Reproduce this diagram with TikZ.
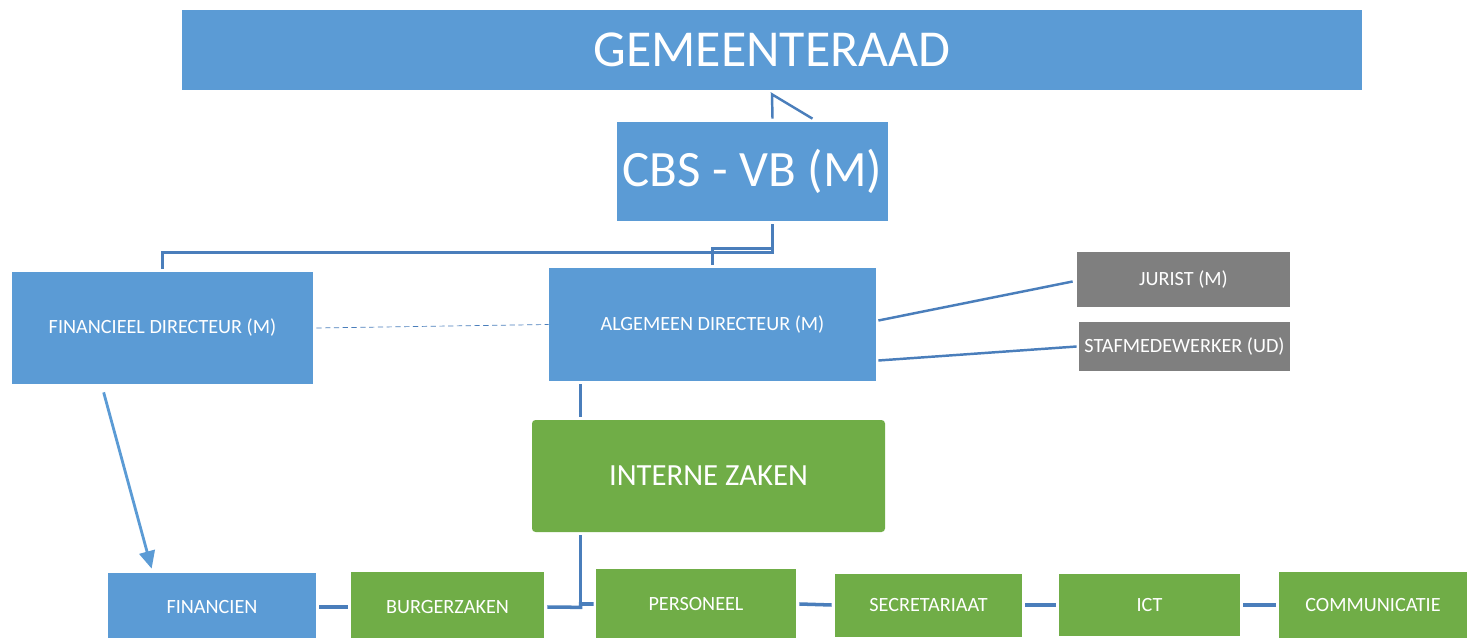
\documentclass[tikz,border=0pt]{standalone}
\usepackage{fontspec}
\setmainfont{Carlito}
\usetikzlibrary{arrows.meta,calc}
\definecolor{org_blue}{RGB}{91,155,213}
\definecolor{org_green}{RGB}{112,173,71}
\definecolor{org_grey}{RGB}{127,127,127}
\definecolor{org_line}{RGB}{74,126,187}

\begin{document}
\begin{tikzpicture}[x=0.02cm, y=-0.02cm,
  unit/.style={fill=#1, text=white, inner sep=0pt, font=\fontsize{11.5}{13}\selectfont},
  size/.style 2 args={minimum width=#1*0.02cm, minimum height=#2*0.02cm},
  link/.style={org_line, line width=1.4pt},
  bus/.style={org_line, line width=2pt}]
\useasboundingbox (0,0) rectangle (1467,638);
\clip (0,0) rectangle (1467,638);

\node[unit=org_blue, size={1180}{80}, font=\fontsize{29.5}{35}\selectfont] (raad) at (772,50) {GEMEENTERAAD};
\node[unit=org_blue, size={271}{99}, font=\fontsize{29}{35}\selectfont] (cbs) at (752.5,171.5) {CBS - VB (M)};

\node[unit=org_blue, size={301}{112}] (fin) at (162.5,328) {FINANCIEEL DIRECTEUR (M)};
\node[unit=org_blue, size={327}{113}] (alg) at (712.5,324.5) {ALGEMEEN DIRECTEUR (M)};
\node[unit=org_grey, size={213}{55}] (jur) at (1183.5,279.5) {JURIST (M)};
\node[unit=org_grey, size={211}{49}] (staf) at (1184.5,346.5) {STAFMEDEWERKER (UD)};

\node[unit=org_green, size={353}{112}, rounded corners=2pt, font=\fontsize{17.5}{21}\selectfont] (intern) at (708.5,476) {INTERNE ZAKEN};

\foreach \name/\cx/\cy/\w/\h/\col/\lab in {
  financien/212/607/208/68/org_blue/FINANCIEN,
  burg/447.5/607/193/70/org_green/BURGERZAKEN,
  pers/696/604/200/70/org_green/PERSONEEL,
  secr/928.5/605/187/63/org_green/SECRETARIAAT,
  ict/1149.5/605/181/62/org_green/ICT,
  comm/1373/605/188/66/org_green/COMMUNICATIE}
  \node[unit=\col, size={\w}{\h}] (\name) at (\cx,\cy) {\lab};

% raad - cbs
\draw[link] ($(cbs.north)+(20,-3)$) -- ($(raad.south)+(0,4)$) -- ($(cbs.north)+(60,-3)$);

% cbs - directeuren
\draw[link] ($(cbs.south)+(20,3)$) -- ++(0,28) -| ($(fin.north)+(0,-3)$);
\draw[link] ($(alg.north)+(0,-3)$) |- ($(cbs.south)+(20,27)$);
\draw[org_line, thin, dash pattern=on 3pt off 2pt] ($(fin.east)+(3,0)$) -- (alg.west);

% staf
\draw[link] ($(alg.east)+(2,-4)$) -- ($(jur.west)+(-4,2)$);
\draw[link] ($(alg.east)+(2,36)$) -- ($(staf.west)+(-2,0)$);

% interne zaken
\draw[link] ($(alg.south west)+(32,3)$) -- ($(intern.north west)+(49,-3)$);
\draw[link] ($(intern.south west)+(49,3)$) -- ($(intern.south west)+(49,75)$) coordinate (knee);
\draw[bus] ($(burg.east)+(3,0)$) -- (knee) |- ($(pers.west)+(-2,0)$);

\draw[org_blue, line width=1.6pt, -{Triangle[length=10pt, width=9pt]}]
  ($(fin.south west)+(92,8)$) -- ($(financien.north west)+(44,-4)$);

\draw[bus] ($(financien.east)+(3,0)$) -- ($(burg.west)+(-3,0)$);
\foreach \a/\b in {pers/secr, secr/ict, ict/comm}
  \draw[bus] ($(\a.east)+(3,0)$) -- ($(\b.west)+(-3,0)$);

\end{tikzpicture}
\end{document}
